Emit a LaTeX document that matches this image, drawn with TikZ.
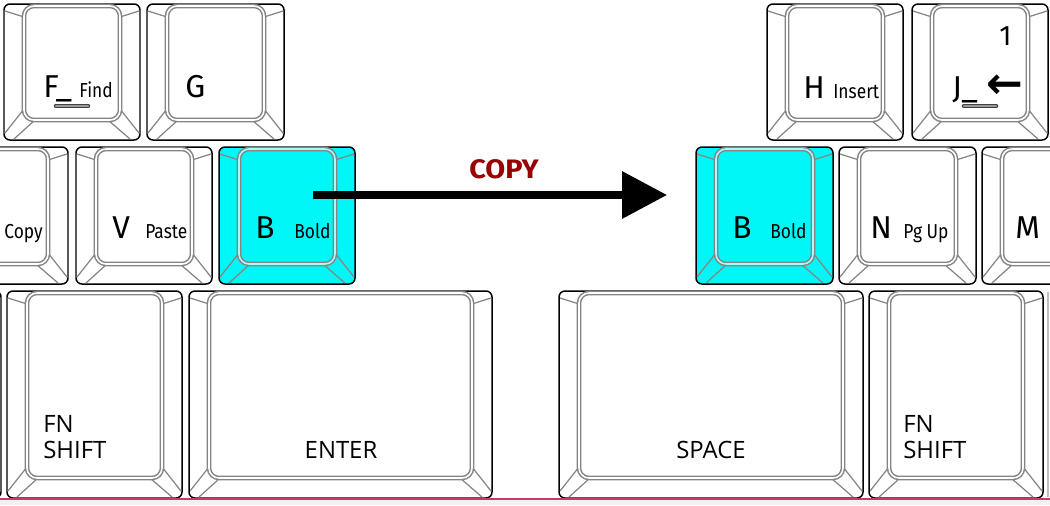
\documentclass[tikz,border=0pt]{standalone}
\usepackage{fontspec}
\setmainfont{Fira Sans}
\newfontfamily\condfont[FakeStretch=0.86]{Fira Sans}
\newfontfamily\copyfont[FakeStretch=1.08]{Fira Sans}
\newfontfamily\wordfont{Open Sans}
\newfontfamily\symbfont{DejaVu Sans}
\usepackage{tikz}
\usetikzlibrary{arrows.meta}

\definecolor{keycyan}{HTML}{00F7F7}
\definecolor{keygray}{HTML}{858585}
\definecolor{copyred}{HTML}{990000}
\definecolor{edgepink}{HTML}{C43C6C}
\definecolor{stripgray}{HTML}{EEF2F3}

\tikzset{
    keyouter/.style={draw=black, line width=0.85pt, rounded corners=3.4pt},
    keyinner/.style={draw=keygray, line width=0.85pt, double distance=0.9pt, rounded corners=5.7pt},
    keyedge/.style={draw=keygray, line width=0.7pt},
    biglbl/.style={anchor=base west, inner sep=0pt, font=\fontsize{18}{20}\selectfont},
    smalllbl/.style={anchor=base west, inner sep=0pt, font=\condfont\fontsize{11.5}{13}\selectfont},
    wordlbl/.style={anchor=base west, inner sep=0pt, font=\wordfont\fontsize{13.6}{15}\selectfont},
    homebar/.style={line cap=round, line width=2.6pt, draw=black!75},
}

% one key: left, top, right, bottom (pixels), fill colour
\newcommand{\keycap}[5]{%
    \draw[keyouter, fill=#5] (#1, #2) rectangle (#3, #4);
    \draw[keyedge] ({#1+20}, {#2+13}) -- ({#1+1}, {#2+7});
    \draw[keyedge] ({#3-20}, {#2+13}) -- ({#3-1}, {#2+7});
    \draw[keyedge] ({#1+20}, {#4-31}) -- ({#1+1}, {#4-7});
    \draw[keyedge] ({#1+31}, {#4-20}) -- ({#1+10}, {#4-1});
    \draw[keyedge] ({#3-20}, {#4-31}) -- ({#3-1}, {#4-7});
    \draw[keyedge] ({#3-32}, {#4-20}) -- ({#3-10}, {#4-1});
    \draw[keyinner, fill=#5, double=#5!35!white] ({#1+20}, {#2+2}) rectangle ({#3-20}, {#4-20});
}

\begin{document}
\begin{tikzpicture}[x=0.02cm, y=-0.02cm]
        \useasboundingbox (0, 0) rectangle (1050, 505);
        \clip (0, 0) rectangle (1050, 505);

        % top row
        \keycap{4}{4}{140}{140}{white}
        \keycap{147}{4}{284}{140}{white}
        \keycap{767}{4}{903}{140}{white}
        \keycap{912}{4}{1048}{140}{white}

        % middle row
        \keycap{-68}{147}{68}{284}{white}
        \keycap{76}{147}{212}{284}{white}
        \keycap{219}{147}{355}{284}{keycyan}
        \keycap{696}{147}{833}{284}{keycyan}
        \keycap{839}{147}{976}{284}{white}
        \keycap{982}{147}{1118}{284}{white}

        % bottom row
        \keycap{-174}{291}{1}{498}{white}
        \keycap{7}{291}{182}{498}{white}
        \keycap{189}{291}{492}{498}{white}
        \keycap{559}{291}{863}{498}{white}
        \keycap{869}{291}{1043}{498}{white}
        \draw[black!25, line width=0.6pt] (1048, 292) -- (1048, 497);

        % bottom edge
        \fill[stripgray] (0, 499.5) rectangle (1050, 505);
        \draw[edgepink, line width=0.7pt] (0, 499) -- (1050, 499);

        % home row bars
        \draw[homebar] (56, 106) -- (88, 106);
        \draw[homebar, draw=gray!80, line width=1.2pt] (56, 106) -- (88, 106);
        \draw[homebar] (964, 106) -- (996, 106);
        \draw[homebar, draw=gray!80, line width=1.2pt] (964, 106) -- (996, 106);

        % labels
        \node[biglbl] (fkey) at (43, 97) {F\_};
        \node[smalllbl] (fsub) at (79, 97) {Find};
        \node[biglbl] (gkey) at (185, 97) {G};
        \node[biglbl] (hkey) at (803, 98) {H};
        \node[smalllbl] (hsub) at (833, 98) {Insert};
        \node[biglbl] (jkey) at (952, 98) {J\_};
        \node[anchor=center, inner sep=0pt, font=\symbfont\bfseries\fontsize{25}{27}\selectfont] (jsub) at (1005, 87) {←};
        \node[biglbl, font=\fontsize{16}{18}\selectfont] (jnum) at (999, 45) {1};

        \node[smalllbl] (csub) at (4, 238) {Copy};
        \node[biglbl] (vkey) at (112, 238) {V};
        \node[smalllbl] (vsub) at (145, 238) {Paste};
        \node[biglbl] (bkey) at (255, 238) {B};
        \node[smalllbl] (bsub) at (294, 238) {Bold};
        \node[biglbl] (bkeyr) at (732, 238) {B};
        \node[smalllbl] (bsubr) at (770, 238) {Bold};
        \node[biglbl] (nkey) at (870, 238) {N};
        \node[smalllbl] (nsub) at (903, 238) {Pg Up};
        \node[biglbl] (mkey) at (1015, 238) {M};

        \node[wordlbl] (fnl) at (43, 432) {FN};
        \node[wordlbl] (shiftl) at (43, 458) {SHIFT};
        \node[wordlbl, anchor=base] (enter) at (341, 458) {ENTER};
        \node[wordlbl, anchor=base] (space) at (711, 458) {SPACE};
        \node[wordlbl] (fnr) at (903, 432) {FN};
        \node[wordlbl] (shiftr) at (903, 458) {SHIFT};

        % copy arrow
        \coordinate (copysrc) at (313, 195);
        \coordinate (copydst) at (667, 195);
        \draw[line width=4pt, -{Triangle[length=25.5pt, width=26pt]}] (copysrc) -- (copydst);
        \node[anchor=base, inner sep=0pt, text=copyred, font=\copyfont\bfseries\fontsize{15.2}{17}\selectfont] (copylbl) at (504, 178) {COPY};

    \end{tikzpicture}
\end{document}
